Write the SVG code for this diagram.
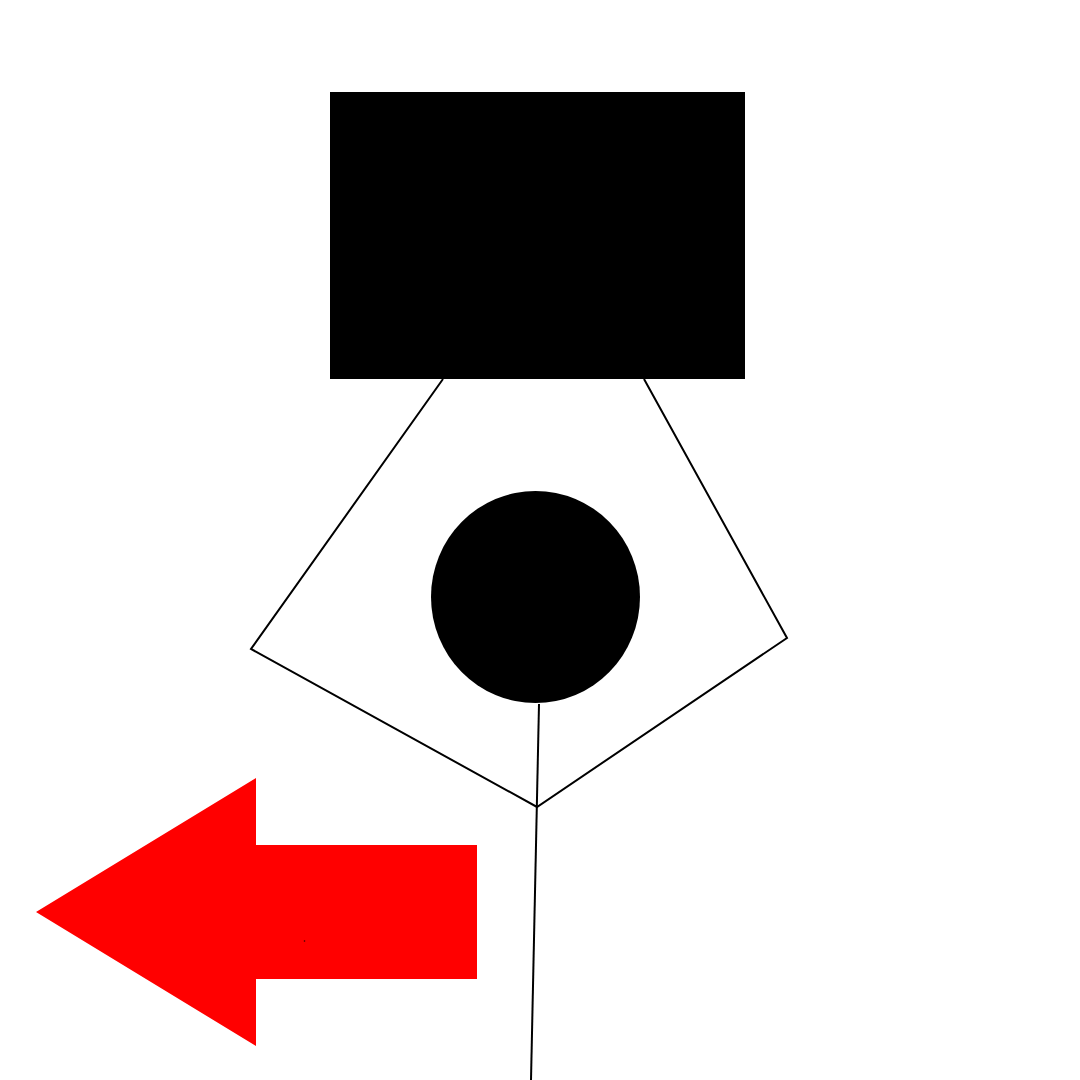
<svg xmlns="http://www.w3.org/2000/svg" width="1080" height="1080" viewBox="0 0 1080 1080">
<style>
.edge{fill:none;stroke:#000;stroke-width:2}
</style>
<rect width="1080" height="1080" fill="#fff"/>
<g id="connectors">
<polyline class="edge" points="443,379 251,649 537,807 787,638 644,379"/>
<line class="edge" x1="539" y1="704" x2="531" y2="1080"/>
</g>
<g id="box"><rect x="330" y="92" width="415" height="287" fill="#000"/></g>
<g id="circle"><ellipse cx="535.5" cy="597" rx="104.5" ry="106" fill="#000"/></g>
<g id="arrow">
<polygon points="36,912 256,778 256,845 477,845 477,979 256,979 256,1046" fill="#ff0000"/>
<circle cx="304.5" cy="941" r="0.8" fill="#300"/>
</g>
</svg>
